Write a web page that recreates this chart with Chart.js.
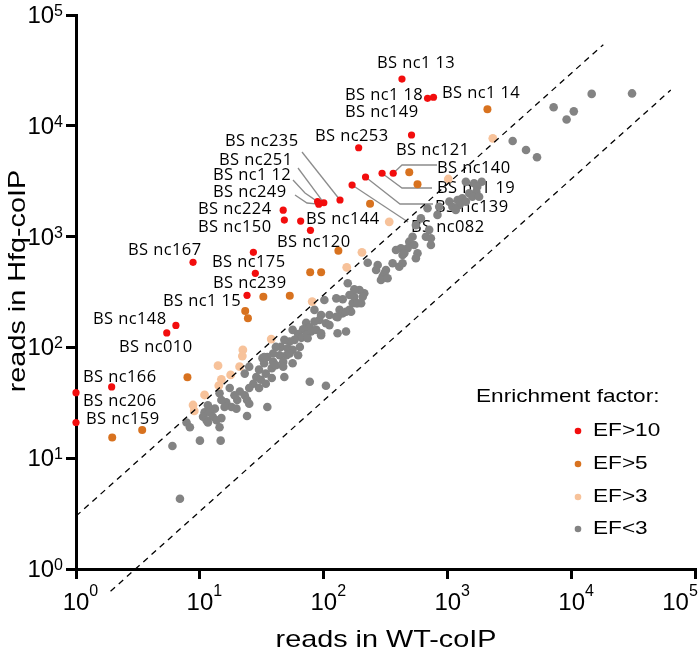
<!DOCTYPE html>
<html>
<head>
<meta charset="utf-8">
<script src="https://cdn.jsdelivr.net/npm/chart.js@4.4.1/dist/chart.umd.min.js"></script>
<style>
  html, body { margin: 0; background: #fff; }
</style>
</head>
<body>
<canvas id="chartData" width="700" height="657"></canvas>
<script>
// axis ticks (powers of ten) and their exponents
const tickValues = [1, 10, 100, 1000, 10000, 100000];
const tickExponents = ["0", "1", "2", "3", "4", "5"];

// EF>10
const redX = [427, 687, 767, 510, 191, 363, 295, 217, 169, 135, 100, 89, 91, 47, 48, 65, 78, 27, 8.8, 28, 24, 6.4, 5.4, 1.94, 1, 1];
const redY = [26400, 17700, 18100, 8260, 6340, 3730, 3730, 3450, 2920, 2140, 2020, 2070, 1960, 1730, 1410, 1380, 1140, 721, 586, 466, 295, 158, 135, 44, 39, 21];

// EF>5
const orangeX = [2090, 489, 570, 236, 131, 77.6, 95.1, 32.5, 53.1, 23.2, 24.4, 7.93, 3.42, 1.96];
const orangeY = [14100, 3800, 2970, 1980, 746, 476, 476, 287, 293, 213, 183, 53.7, 18.0, 15.4];

// EF>3
const peachX = [2310, 1010, 337, 203, 153, 80.5, 37.6, 22.2, 22.0, 14.0, 20.9, 17.7, 14.9, 14.2, 10.9, 8.8, 9.0];
const peachY = [7710, 3310, 1360, 721, 528, 259, 119, 94.8, 83.6, 68.4, 67.0, 56.4, 51.5, 45.1, 37.2, 30.2, 26.7];

// EF<3
const grayX = [30700, 14500, 7150, 10400, 9100, 3340, 4280, 5250, 1880, 1630, 1400, 1730, 1700, 1490, 1580, 1790,
  1310, 1200, 1240, 1400, 1030, 1090, 1160, 853, 687, 826, 607, 553, 708, 666, 731, 731, 520, 489, 536, 474, 419,
  432, 382, 570, 553, 446, 359, 406, 432, 298, 308, 289, 272, 264, 226, 317, 327, 212, 194, 176, 182, 200, 161,
  156, 176, 206, 126, 142, 161, 171, 188, 166, 134, 142, 101, 111, 84, 95, 92, 84, 104, 111, 129, 72, 77, 68, 79,
  87, 95, 72, 56, 62, 66, 74, 58, 53, 48, 45, 41, 51, 56, 64, 62, 50, 44, 39, 35, 32, 39, 47, 56, 25, 23, 33, 30,
  34, 38, 41, 28.5, 31, 27, 25, 30, 34, 38, 21, 23, 19, 20, 24, 25, 17.4, 16.3, 14.9, 18, 15.8, 19.7, 14.4, 13.2,
  11.6, 10.9, 12, 12.7, 13.6, 14.9, 10.6, 11.3, 11.6, 35, 24, 14.4, 7.8, 8.3, 10, 14.7, 6.0, 6.9, 77, 104, 95, 129,
  151, 126, 151, 47, 53, 33, 48];
const grayY = [19600, 19400, 14700, 13500, 11400, 7290, 6050, 5200, 3130, 3030, 3130, 2820, 2540, 2460, 2290, 2290,
  2220, 2140, 1930, 2070, 2070, 1860, 1740, 1860, 1800, 1570, 1460, 1270, 1150, 998, 966, 840, 998, 900, 840, 784, 784,
  682, 757, 707, 637, 707, 574, 535, 574, 435, 466, 406, 554, 500, 581, 500, 421, 308, 330, 287, 250, 250, 218,
  379, 334, 287, 277, 272, 297, 250, 250, 210, 218, 203, 268, 196, 218, 196, 177, 171, 165, 159, 187, 167, 152, 146, 139,
  144, 129, 129, 144, 132, 122, 121, 117, 113, 117, 101, 101, 98, 95, 101, 85, 85, 85, 88, 82, 80, 74, 74, 72, 67, 58, 72, 63,
  58, 65, 69, 54, 51, 47, 43, 43, 47, 53, 40, 37, 37, 33.5, 33.5, 31, 43, 32, 33.5, 29, 29, 28, 38.5, 28,
  30, 26, 26, 23.7, 22, 23, 23.7, 22, 21, 29, 24, 19, 21, 19, 14.4, 14.4, 12.9, 4.3, 49, 45, 134, 134,
  139, 189, 210, 67, 88, 82, 54];

// threshold lines: 3-fold enrichment either way
const upperLineX = [1, 18000];
const upperLineY = [3, 54000];
const lowerLineX = [1.9, 63000];
const lowerLineY = [0.63, 21000];

const legendTitle = "Enrichment factor:";
const legendNames = ["EF>10", "EF>5", "EF>3", "EF<3"];
const colors = ["#f20d0d", "#d8721f", "#f7c29a", "#838383"];

// names written next to the EF>10 points
const labelNames = ["BS nc1 13", "BS nc1 18", "BS nc1 14", "BS nc149", "BS nc253", "BS nc121", "BS nc235", "BS nc251",
  "BS nc1 12", "BS nc249", "BS nc224", "BS nc150", "BS nc144", "BS nc120", "BS nc140", "BS nc1 19", "BS nc139",
  "BS nc082", "BS nc167", "BS nc175", "BS nc239", "BS nc1 15", "BS nc148", "BS nc010", "BS nc166", "BS nc206", "BS nc159"];
const labelPos = [[377, 63], [345, 95], [442, 93], [345, 112], [315, 136], [396, 150], [225, 141], [219, 160],
  [213, 175], [213, 192], [198, 209], [198, 227], [306, 219], [277, 242], [437, 168], [437, 188], [435, 207],
  [411, 227], [128, 250], [212, 262], [213, 283], [163, 301], [93, 319], [119, 347], [83, 377], [83, 401], [86, 419]];

// leader lines: pixel start / elbow, then the red point they point to
const leaders = [
  { path: [[302, 152]], target: 9 },
  { path: [[298, 168]], target: 10 },
  { path: [[293, 180], [305, 193]], target: 11 },
  { path: [[295, 195], [307, 203]], target: 12 },
  { path: [[437, 165], [402, 165]], target: 5 },
  { path: [[432, 188], [402, 188]], target: 6 },
  { path: [[433, 204], [400, 204]], target: 7 },
  { path: [[408, 222]], target: 8 },
];

const toPoints = (xs, ys) => xs.map((x, i) => ({ x: x, y: ys[i] }));

function sText(ctx, text, x, y, sx, align) {
  ctx.save();
  ctx.translate(x, y);
  ctx.scale(sx, 1);
  ctx.textAlign = align;
  ctx.fillText(text, 0, 0);
  ctx.restore();
}

const decorPlugin = {
  id: "decor",
  beforeDatasetsDraw(chart) {
    const ctx = chart.ctx;
    const xs = chart.scales.x, ys = chart.scales.y;
    ctx.save();
    // leader lines
    ctx.strokeStyle = "#8c8c8c";
    ctx.lineWidth = 1.3;
    leaders.forEach(l => {
      ctx.beginPath();
      ctx.moveTo(l.path[0][0], l.path[0][1]);
      l.path.slice(1).forEach(p => ctx.lineTo(p[0], p[1]));
      ctx.lineTo(xs.getPixelForValue(redX[l.target]), ys.getPixelForValue(redY[l.target]));
      ctx.stroke();
    });
    // point names
    ctx.fillStyle = "#000";
    ctx.font = '16.5px "Open Sans"';
    ctx.letterSpacing = "0.4px";
    ctx.textBaseline = "middle";
    ctx.textAlign = "left";
    labelNames.forEach((t, i) => ctx.fillText(t, labelPos[i][0], labelPos[i][1]));
    ctx.restore();
  },
  afterDraw(chart) {
    const ctx = chart.ctx;
    const xs = chart.scales.x, ys = chart.scales.y;
    ctx.save();
    ctx.fillStyle = "#000";
    ctx.textBaseline = "alphabetic";
    // x tick labels (the last one is pulled in so it stays on the page)
    tickValues.forEach((v, i) => {
      let px = xs.getPixelForValue(v);
      if (i === tickValues.length - 1) px -= 20;
      ctx.font = '24px "Liberation Sans"';
      ctx.textAlign = "center";
      const w = ctx.measureText("10").width;
      ctx.fillText("10", px, 610);
      ctx.font = '16px "Liberation Sans"';
      ctx.textAlign = "left";
      ctx.fillText(tickExponents[i], px + w / 2, 596);
    });
    // y tick labels
    tickValues.forEach((v, i) => {
      const py = ys.getPixelForValue(v);
      ctx.font = '16px "Liberation Sans"';
      ctx.textAlign = "right";
      const ew = ctx.measureText(tickExponents[i]).width;
      ctx.fillText(tickExponents[i], 63, py + 1);
      ctx.font = '24px "Liberation Sans"';
      ctx.fillText("10", 63 - ew, py + 8);
    });
    // axis titles
    ctx.font = '24px "Liberation Sans"';
    ctx.textBaseline = "middle";
    sText(ctx, "reads in WT-coIP", 386, 640, 1.2, "center");
    ctx.save();
    ctx.translate(18, 281);
    ctx.rotate(-Math.PI / 2);
    sText(ctx, "reads in Hfq-coIP", 0, 0, 1.2, "center");
    ctx.restore();
    // legend
    ctx.font = '19px "Liberation Sans"';
    sText(ctx, legendTitle, 476, 397, 1.19, "left");
    const rows = [431, 464, 497, 529];
    legendNames.forEach((t, i) => {
      ctx.fillStyle = colors[i];
      ctx.beginPath();
      ctx.arc(578, rows[i], 3.3, 0, Math.PI * 2);
      ctx.fill();
      ctx.fillStyle = "#000";
      sText(ctx, t, 593, rows[i], 1.19, "left");
    });
    ctx.restore();
  }
};

const axisBase = {
  type: "logarithmic",
  min: 1,
  max: 100000,
  ticks: { display: false },
  grid: { display: true, drawOnChartArea: false, drawTicks: true, tickLength: 10, color: "#000", lineWidth: 3 },
  border: { display: true, color: "#000", width: 3 },
  afterBuildTicks: s => { s.ticks = tickValues.map(v => ({ value: v })); },
};

const dotSet = (label, xs, ys, color, r) => ({
  type: "scatter",
  label: label,
  data: toPoints(xs, ys),
  backgroundColor: color,
  borderWidth: 0,
  pointRadius: r,
  pointHoverRadius: r,
  clip: false,
});

const dashSet = (xs, ys) => ({
  type: "line",
  data: toPoints(xs, ys),
  borderColor: "#000",
  borderWidth: 1.3,
  borderDash: [6, 5],
  pointRadius: 0,
  fill: false,
  clip: false,
});

new Chart(document.getElementById("chartData"), {
  type: "scatter",
  data: {
    datasets: [
      dashSet(upperLineX, upperLineY),
      dashSet(lowerLineX, lowerLineY),
      dotSet(legendNames[0], redX, redY, colors[0], 3.6),
      dotSet(legendNames[1], orangeX, orangeY, colors[1], 4),
      dotSet(legendNames[2], peachX, peachY, colors[2], 4.4),
      dotSet(legendNames[3], grayX, grayY, colors[3], 4.3),
    ],
  },
  options: {
    responsive: false,
    animation: false,
    devicePixelRatio: 1,
    layout: { padding: { top: 15, right: 3, left: 0, bottom: 0 } },
    plugins: { legend: { display: false }, tooltip: { enabled: false } },
    scales: {
      x: Object.assign({}, axisBase, { afterFit: s => { s.height = 88; } }),
      y: Object.assign({}, axisBase, { afterFit: s => { s.width = 76; } }),
    },
  },
  plugins: [decorPlugin],
});
</script>
</body>
</html>
